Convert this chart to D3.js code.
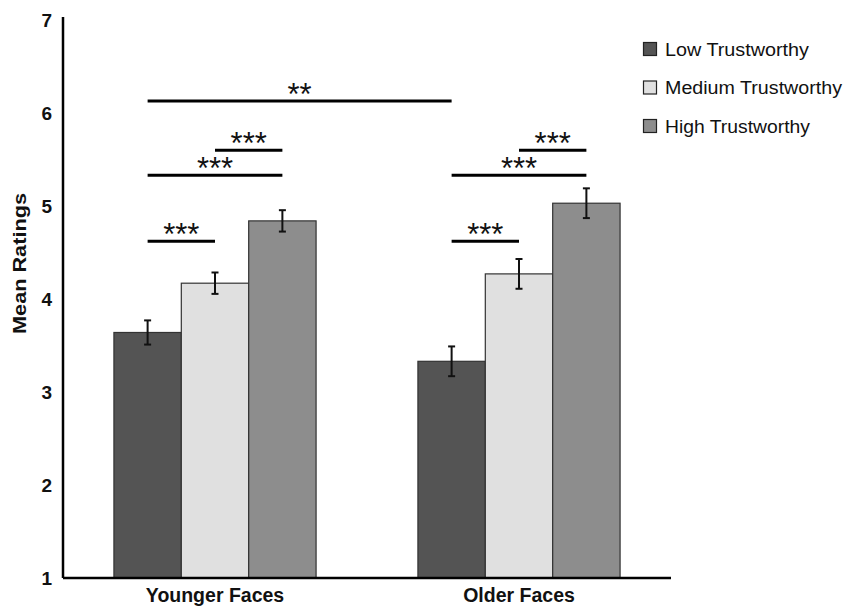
<!DOCTYPE html>
<html>
<head>
<meta charset="utf-8">
<script src="https://cdn.jsdelivr.net/npm/d3@7"></script>
<style>
  body { margin: 0; background: #fff; }
  svg { display: block; font-family: "Liberation Sans", Arial, sans-serif; }
</style>
</head>
<body>
<svg id="chart" width="845" height="606"></svg>
<script>
const groups = ["Younger Faces", "Older Faces"];
const series = ["Low Trustworthy", "Medium Trustworthy", "High Trustworthy"];
const means = {
  "Younger Faces": [3.64, 4.17, 4.84],
  "Older Faces":   [3.33, 4.27, 5.03]
};
const errors = {
  "Younger Faces": [0.13, 0.115, 0.115],
  "Older Faces":   [0.16, 0.16, 0.16]
};
const yTicks = [1, 2, 3, 4, 5, 6, 7];
const colors = ["#545454", "#e0e0e0", "#8d8d8d"];
// significance brackets: [group, seriesIndex] from -> to, height (data units), label
const sigFrom = [["Younger Faces", 0], ["Younger Faces", 1], ["Younger Faces", 0], ["Younger Faces", 0], ["Older Faces", 1], ["Older Faces", 0], ["Older Faces", 0]];
const sigTo   = [["Older Faces", 0],   ["Younger Faces", 2], ["Younger Faces", 2], ["Younger Faces", 1], ["Older Faces", 2], ["Older Faces", 2], ["Older Faces", 1]];
const sigY    = [6.13, 5.6, 5.33, 4.62, 5.6, 5.33, 4.62];
const sigText = ["**", "***", "***", "***", "***", "***", "***"];

const svg = d3.select("#chart");
const x0 = d3.scaleBand().domain(groups).range([63, 671]).paddingInner(0.335).paddingOuter(0.1675);
const x1 = d3.scaleBand().domain(d3.range(series.length)).range([0, x0.bandwidth()]);
const y = d3.scaleLinear().domain([1, 7]).range([578, 20]);

// bars
const g = svg.append("g");
groups.forEach(grp => {
  const gg = g.append("g").attr("transform", `translate(${x0(grp)},0)`);
  gg.selectAll("rect").data(means[grp]).join("rect")
    .attr("x", (d, i) => x1(i))
    .attr("y", d => y(d))
    .attr("width", x1.bandwidth())
    .attr("height", d => y(1) - y(d))
    .attr("fill", (d, i) => colors[i])
    .attr("stroke", "#333")
    .attr("stroke-width", 1.2);
  // error bars
  means[grp].forEach((m, i) => {
    const e = errors[grp][i];
    const cx = x1(i) + x1.bandwidth() / 2;
    const eg = gg.append("g").attr("stroke", "#111").attr("stroke-width", 2);
    eg.append("line").attr("x1", cx).attr("x2", cx).attr("y1", y(m + e)).attr("y2", y(m - e));
    eg.append("line").attr("x1", cx - 3.5).attr("x2", cx + 3.5).attr("y1", y(m + e)).attr("y2", y(m + e));
    eg.append("line").attr("x1", cx - 3.5).attr("x2", cx + 3.5).attr("y1", y(m - e)).attr("y2", y(m - e));
  });
});

// axes
const yAxis = d3.axisLeft(y).tickValues(yTicks).tickSize(0).tickPadding(11).tickFormat(d3.format("d"));
const ya = svg.append("g").attr("transform", "translate(63,0)").call(yAxis);
ya.select(".domain").attr("stroke", "#000").attr("stroke-width", 2.5).attr("d", `M0,${y(7) - 3}V${y(1)}`);
ya.selectAll("text").attr("font-size", 19).attr("font-weight", "bold").attr("fill", "#111")
  .attr("font-family", "Liberation Sans, Arial, sans-serif");

const xAxis = d3.axisBottom(x0).tickSize(0).tickPadding(0);
const xa = svg.append("g").attr("transform", `translate(0,${y(1)})`).call(xAxis);
xa.select(".domain").attr("stroke", "#000").attr("stroke-width", 2.5).attr("d", `M63,0H671`);
xa.selectAll("text").attr("font-size", 19.5).attr("font-weight", "bold").attr("fill", "#111")
  .attr("dy", 0).attr("y", 24)
  .attr("font-family", "Liberation Sans, Arial, sans-serif");

// y label
svg.append("text")
  .attr("transform", `translate(26,${(193 + 334) / 2}) rotate(-90)`)
  .attr("text-anchor", "middle")
  .attr("font-size", 18).attr("font-weight", "bold").attr("fill", "#111")
  .attr("textLength", 141).attr("lengthAdjust", "spacingAndGlyphs")
  .text("Mean Ratings");

// significance
const cxOf = (p) => x0(p[0]) + x1(p[1]) + x1.bandwidth() / 2;
sigY.forEach((v, i) => {
  const xa1 = cxOf(sigFrom[i]), xa2 = cxOf(sigTo[i]);
  svg.append("line").attr("x1", xa1).attr("x2", xa2).attr("y1", y(v)).attr("y2", y(v))
    .attr("stroke", "#000").attr("stroke-width", 3);
  svg.append("text").attr("x", (xa1 + xa2) / 2).attr("y", y(v) + 4)
    .attr("text-anchor", "middle").attr("font-size", 31).attr("fill", "#111")
    .text(sigText[i]);
});

// legend
const leg = svg.append("g");
series.forEach((s, i) => {
  const cy = 49 + i * 38.5;
  leg.append("rect").attr("x", 643.5).attr("y", cy - 6.5).attr("width", 13).attr("height", 13)
    .attr("fill", colors[i]).attr("stroke", "#222").attr("stroke-width", 1.2);
  leg.append("text").attr("x", 665).attr("y", cy + 6.5).attr("font-size", 18).attr("fill", "#111")
    .attr("textLength", i === 1 ? 177 : (i === 0 ? 144 : 145)).attr("lengthAdjust", "spacingAndGlyphs")
    .text(s);
});
</script>
</body>
</html>
